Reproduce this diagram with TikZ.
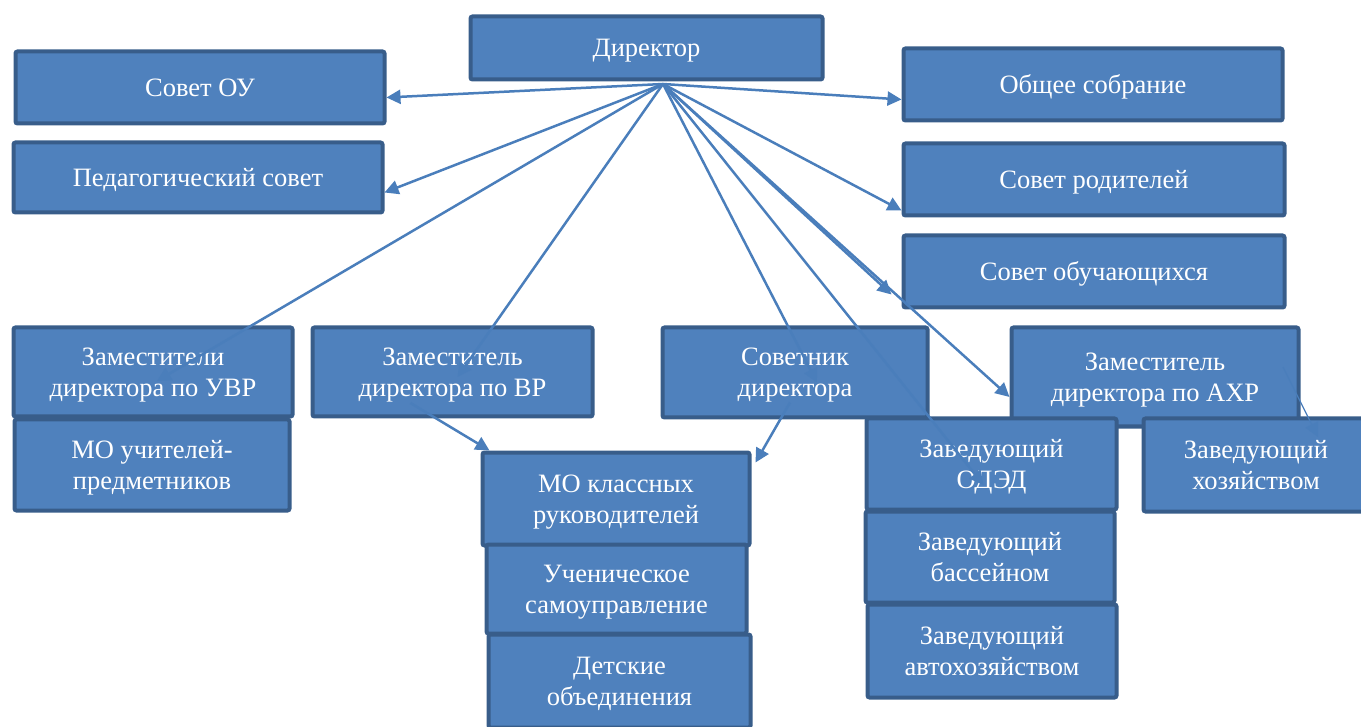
\documentclass[tikz,border=0pt]{standalone}
\usepackage{fontspec}
\setmainfont{Liberation Serif}
\usetikzlibrary{arrows.meta}
\definecolor{boxfill}{HTML}{4F81BD}
\definecolor{boxline}{HTML}{385D8A}
\definecolor{arrline}{HTML}{4A7EBB}

\begin{document}
\begin{tikzpicture}[x=1pt,y=-1pt,
  box/.style={draw=boxline,line width=4pt,fill=boxfill,rounded corners=2pt,
    text=white,align=center,inner sep=0pt,text depth=-5pt,
    font=\fontsize{26.5}{31}\selectfont},
  arr/.style={draw=arrline,line width=2.5pt,-{Triangle[length=14pt,width=14pt]}}]
\useasboundingbox (0,0) rectangle (1361,727);
% top row
\node[box,minimum width=352pt,minimum height=63pt] (dir) at (646.5,48) {Директор};
\node[box,minimum width=369pt,minimum height=72pt] (ou) at (200,87.5) {Совет ОУ};
\node[box,minimum width=369pt,minimum height=70pt] (ped) at (198,177.5) {Педагогический совет};
\node[box,minimum width=379pt,minimum height=72pt] (obsh) at (1093,84.5) {Общее собрание};
\node[box,minimum width=381pt,minimum height=72pt] (rod) at (1094,179.5) {Совет родителей};
\node[box,minimum width=381pt,minimum height=72pt] (obuch) at (1094,271.5) {Совет обучающихся};
% deputies
\node[box,minimum width=275pt,minimum height=91pt] (mou) at (152,465) {МО учителей-\\предметников};
\node[box,minimum width=279pt,minimum height=89pt] (uvr) at (153,372) {Заместители\\директора по УВР};
\node[box,minimum width=280pt,minimum height=89pt] (vr) at (452.5,372) {Заместитель\\директора по ВР};
\node[box,minimum width=265pt,minimum height=90pt] (sovd) at (795,372.5) {Советник\\директора};
\node[box,minimum width=287pt,minimum height=99pt] (ahr) at (1155,377) {Заместитель\\директора по АХР};
% lower boxes
\node[box,minimum width=250pt,minimum height=91pt] (odod) at (991.5,464) {Заведующий\\ОДЭД};
\node[box,minimum width=225pt,minimum height=93pt] (hoz) at (1256,465) {Заведующий\\хозяйством};
\node[box,minimum width=249pt,minimum height=91pt] (bass) at (990,557) {Заведующий\\бассейном};
\node[box,minimum width=249pt,minimum height=93pt] (avto) at (992,651) {Заведующий\\автохозяйством};
\node[box,minimum width=267pt,minimum height=93pt] (mok) at (616,499) {МО классных\\руководителей};
\node[box,minimum width=260pt,minimum height=89pt] (uch) at (616.5,589) {Ученическое\\самоуправление};
\node[box,minimum width=262pt,minimum height=93pt] (det) at (619.5,681) {Детские\\объединения};
% arrows
\coordinate (hub) at (663,84);
\draw[arr] (hub) -- ([yshift=-10pt]ou.east);
\draw[arr] (hub) -- ([yshift=-15pt]ped.east);
\draw[arr] (hub) -- ([shift={(4,9)}]uvr.center);
\draw[arr] (hub) -- ([shift={(5,5)}]vr.center);
\draw[arr] (hub) -- ([shift={(22,10)}]sovd.center);
\draw[arr] (hub) -- ([yshift=-15pt]obsh.west);
\draw[arr] (hub) -- ([yshift=7pt]rod.south west);
\draw[arr] (hub) -- ([shift={(-10,-15)}]obuch.south west);
\draw[arr] (hub) -- ([yshift=-20pt]ahr.west);
\draw[arr] (hub) -- ([shift={(-8,21)}]odod.center);
\draw[arr] ([shift={(-42,31)}]vr.center) -- ([xshift=9pt]mok.north west);
\draw[arr] ([shift={(-5,30)}]sovd.center) -- ([shift={(4,12)}]mok.north east);
\draw[arr,line width=1.2pt] ([shift={(128,-10)}]ahr.center) -- ([shift={(62,-28)}]hoz.center);
\end{tikzpicture}
\end{document}
